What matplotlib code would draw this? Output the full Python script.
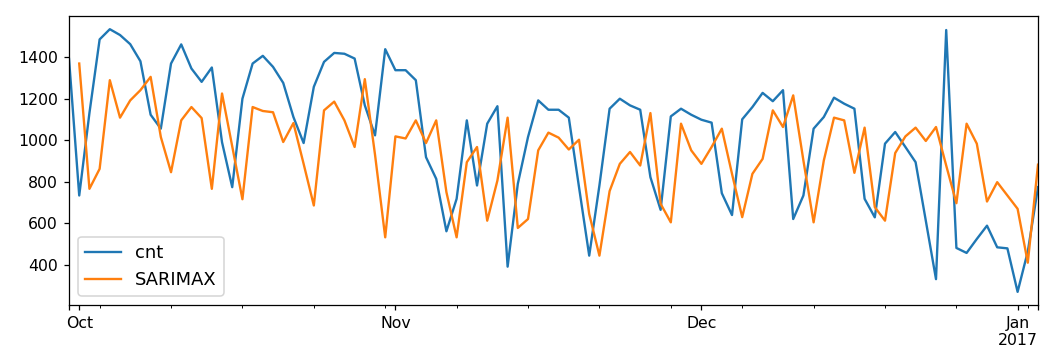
import numpy as np
import pandas as pd
import matplotlib
matplotlib.use("Agg")
import matplotlib.pyplot as plt

dates = pd.date_range("2016-09-30", "2017-01-03", freq="D")

cnt = [1390, 734, 1130, 1484, 1533, 1505, 1461, 1379, 1122, 1055,
       1368, 1460, 1344, 1280, 1349, 990, 774, 1199, 1368, 1405,
       1352, 1275, 1111, 986, 1256, 1376, 1419, 1415, 1392, 1167,
       1023, 1437, 1336, 1336, 1288, 918, 814, 562, 718, 1095,
       782, 1079, 1163, 392, 790, 1015, 1191, 1146, 1146, 1108,
       774, 445, 782, 1151, 1199, 1167, 1146, 822, 665, 1114,
       1151, 1122, 1098, 1084, 745, 640, 1100, 1159, 1227, 1187,
       1240, 621, 734, 1055, 1111, 1204, 1175, 1151, 718, 629,
       983, 1039, 967, 894, 613, 332, 1529, 482, 458, 525,
       589, 485, 480, 271, 465, 774]

sarimax = [np.nan, 1368, 766, 862, 1288, 1108, 1191, 1240, 1304, 1015,
           846, 1095, 1159, 1106, 766, 1224, 970, 716, 1159, 1140,
           1134, 991, 1082, 886, 686, 1143, 1185, 1095, 967, 1293,
           930, 533, 1018, 1008, 1095, 986, 1095, 750, 533, 894,
           967, 613, 806, 1108, 578, 621, 951, 1036, 1012, 955,
           1002, 645, 445, 755, 886, 943, 878, 1130, 694, 605,
           1079, 951, 886, 967, 1055, 838, 630, 838, 910, 1143,
           1063, 1215, 902, 605, 902, 1108, 1095, 843, 1060, 678,
           613, 938, 1018, 1060, 996, 1063, 878, 697, 1079, 983,
           705, 798, 734, 670, 411, 882]

df = pd.DataFrame({"cnt": cnt, "SARIMAX": sarimax}, index=dates)
df.index.freq = "D"

DPI = 113
fig = plt.figure(figsize=(1062 / DPI, 357 / DPI), dpi=DPI)
ax = fig.add_axes([0.065, 0.1457, 0.9124, 0.8093])
df.plot(ax=ax)
ax.legend(loc="lower left", fontsize=11.4)
fig.savefig("out.png", dpi=DPI)
